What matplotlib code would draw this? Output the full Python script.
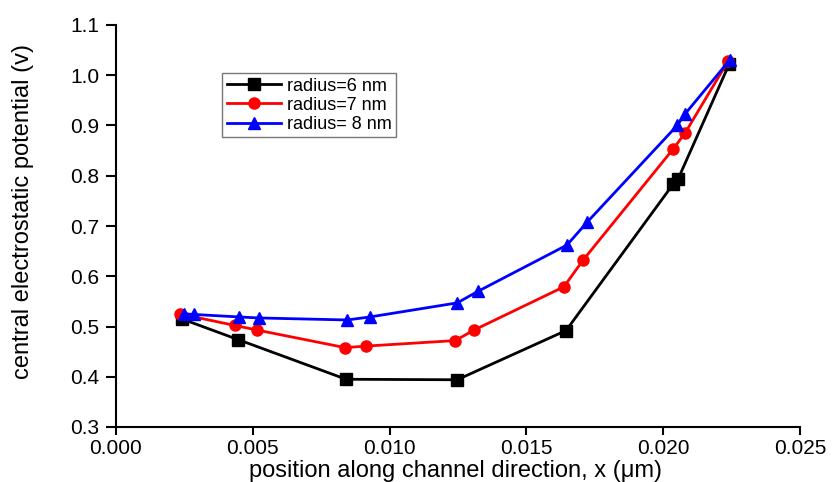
import matplotlib
matplotlib.use("Agg")
import matplotlib.pyplot as plt

plt.rcParams['font.family'] = ['Liberation Sans', 'DejaVu Sans']

x6 = [0.00241, 0.00446, 0.00841, 0.01247, 0.01645, 0.02036, 0.02054, 0.02241]
y6 = [0.515, 0.474, 0.395, 0.394, 0.492, 0.783, 0.793, 1.022]

x7 = [0.00234, 0.00435, 0.00515, 0.00837, 0.00914, 0.01240, 0.01309, 0.01637, 0.01707, 0.02036, 0.02080, 0.02238]
y7 = [0.525, 0.502, 0.493, 0.458, 0.461, 0.472, 0.493, 0.579, 0.632, 0.853, 0.885, 1.029]

x8 = [0.00249, 0.00285, 0.00450, 0.00523, 0.00845, 0.00928, 0.01247, 0.01323, 0.01648, 0.01721, 0.02051, 0.02080, 0.02244]
y8 = [0.525, 0.524, 0.519, 0.517, 0.513, 0.519, 0.547, 0.570, 0.662, 0.707, 0.900, 0.923, 1.031]

xticks = [0.000, 0.005, 0.010, 0.015, 0.020, 0.025]
yticks = [0.3, 0.4, 0.5, 0.6, 0.7, 0.8, 0.9, 1.0, 1.1]

W, H = 837, 482
L, R, T, B = 116, 800, 25, 427

fig = plt.figure(figsize=(W/100, H/100), dpi=100)
ax = fig.add_axes([L/W, 1 - B/H, (R-L)/W, (B-T)/H])

ax.plot(x6, y6, color='black', marker='s', markersize=8, linewidth=2, label='radius=6 nm')
ax.plot(x7, y7, color='red', marker='o', markersize=8, linewidth=2, label='radius=7 nm')
ax.plot(x8, y8, color='blue', marker='^', markersize=9, linewidth=2, label='radius= 8 nm')

ax.set_xlim(0, 0.025)
ax.set_ylim(0.3, 1.1)
ax.set_xticks(xticks)
ax.set_xticklabels([f"{v:.3f}" for v in xticks])
ax.set_yticks(yticks)
ax.set_yticklabels([f"{v:.1f}" for v in yticks])
ax.spines['top'].set_visible(False)
ax.spines['right'].set_visible(False)
ax.spines['left'].set_linewidth(1.5)
ax.spines['bottom'].set_linewidth(1.5)
ax.tick_params(axis='x', direction='out', length=5.5, width=1.5, labelsize=15, pad=3)
ax.tick_params(axis='y', direction='out', length=7, width=1.5, labelsize=15, pad=5)

ax.set_xlabel('position along channel direction, x (μm)', fontsize=17)
ax.xaxis.set_label_coords(0.497, -0.083)
ax.xaxis.label.set_va('top')
ax.set_ylabel('central electrostatic potential (v)', fontsize=17)
ax.yaxis.set_label_coords(-0.136, 0.535)
ax.yaxis.label.set_va('center')

leg = ax.legend(loc='upper left', bbox_to_anchor=((222-L)/(R-L), (B-73)/(B-T)),
                fontsize=13, frameon=True, fancybox=False, edgecolor='#555555',
                handlelength=3.0, borderpad=0.25, labelspacing=0.12, handletextpad=0.35,
                borderaxespad=0)
leg.get_frame().set_linewidth(1.0)

fig.savefig('out.png', dpi=100)
